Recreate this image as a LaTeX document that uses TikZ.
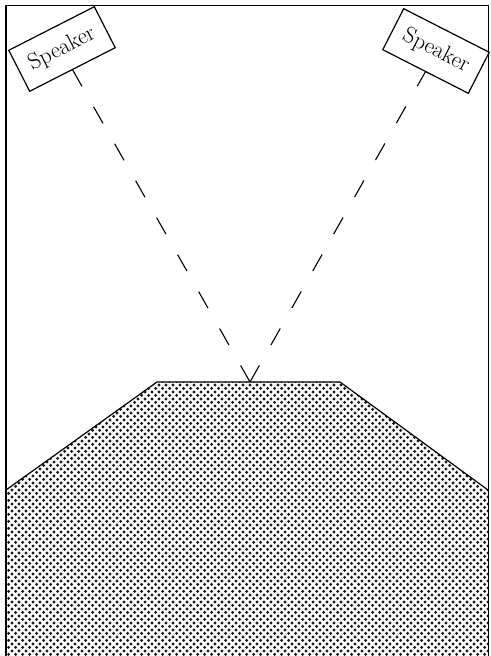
\documentclass[tikz,border=0pt]{standalone}
\usepackage{fontspec}
\usetikzlibrary{patterns}
\pgfdeclarepatternformonly{spkdots}{\pgfpointorigin}{\pgfpoint{6.8pt}{6.8pt}}{\pgfpoint{6.8pt}{6.8pt}}{%
  \pgfpathcircle{\pgfpoint{1.7pt}{1.7pt}}{1.7pt}%
  \pgfpathcircle{\pgfpoint{5.1pt}{5.1pt}}{1.7pt}%
  \pgfusepath{fill}}
\begin{document}
\begin{tikzpicture}[x=1pt,y=1pt,
  spk/.style={draw, line width=1.2pt, minimum width=96pt, minimum height=46pt,
    inner sep=0pt, font=\fontsize{23}{26}\selectfont, fill=white},
  ray/.style={line width=1.1pt, dash pattern=on 19pt off 23.5pt},
  frame/.style={line width=1.3pt},
  floorline/.style={line width=1.2pt}]
\useasboundingbox (0,0) rectangle (490,656);
\fill[pattern=spkdots, pattern color=black!90] (6,0) -- (6,166) -- (157,274) -- (340,274) -- (488,166) -- (488,0) -- cycle;
\draw[floorline] (6,166) -- (157,274) -- (340,274) -- (488,166);
\draw[frame] (6,-2) -- (6,650.5) -- (488.5,650.5) -- (488.5,-2);
\node[spk, rotate=27] (lspk) at (62,607) {Speaker};
\node[spk, rotate=-27] (rspk) at (436,605) {Speaker};
\coordinate (apex) at (250,274);
\draw[ray] (apex) -- (lspk.south);
\draw[ray] (apex) -- (rspk.south);
\end{tikzpicture}
\end{document}
